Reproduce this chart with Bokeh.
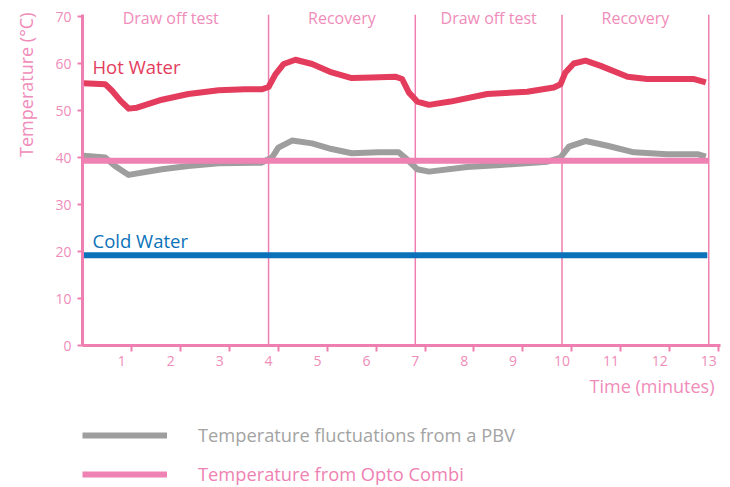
from bokeh.plotting import figure
from bokeh.layouts import column
from bokeh.models import FixedTicker, Legend, LegendItem, Range1d, Title
from bokeh.core.properties import value
from bokeh.embed import file_html
from bokeh.resources import INLINE

# ---- data ----
hot_x = [0.22, 0.66, 0.80, 0.97, 1.14, 1.31, 1.82, 2.36, 2.98, 3.52, 3.86, 4.00, 4.14, 4.31,
         4.55, 4.89, 5.29, 5.70, 6.11, 6.59, 6.73, 6.87, 7.04, 7.28, 7.72, 8.47, 9.29, 9.83,
         9.97, 10.07, 10.24, 10.48, 10.79, 11.34, 11.74, 12.70, 12.94]
hot_y = [55.8, 55.6, 54.2, 52.1, 50.4, 50.6, 52.3, 53.5, 54.3, 54.5, 54.5, 55.0, 57.7, 59.9,
         60.8, 59.9, 58.1, 56.9, 57.0, 57.2, 56.7, 53.8, 51.9, 51.2, 51.9, 53.5, 54.0, 54.9,
         55.6, 58.1, 60.0, 60.6, 59.5, 57.2, 56.7, 56.7, 56.0]

pbv_x = [0.22, 0.66, 0.86, 1.14, 1.82, 2.36, 2.98, 3.86, 4.07, 4.20, 4.48, 4.89, 5.29, 5.70,
         6.25, 6.66, 6.83, 7.04, 7.28, 8.06, 8.74, 9.70, 9.97, 10.14, 10.48, 10.93, 11.47,
         12.15, 12.77, 12.94]
pbv_y = [40.4, 40.0, 38.2, 36.3, 37.5, 38.2, 38.8, 38.9, 40.0, 42.1, 43.6, 43.0, 41.8, 40.9,
         41.1, 41.1, 39.6, 37.5, 37.0, 38.0, 38.4, 39.1, 40.0, 42.3, 43.5, 42.5, 41.1,
         40.7, 40.7, 40.2]

opto_x = [0.2, 13.0]
opto_y = [39.3, 39.3]

cold_x = [0.2, 12.97]
cold_y = [19.2, 19.2]

phase_start = [0, 4, 7, 10]
phase_end = [4, 7, 10, 13]
phase_labels = ["Draw off test", "Recovery", "Draw off test", "Recovery"]

x_ticks = list(range(1, 14))
y_ticks = [0, 10, 20, 30, 40, 50, 60, 70]

# ---- style ----
FONT = "Open Sans"
PINK_AXIS = "#EE7FB0"
PINK_TEXT = "#F08CB9"
RED = "#E43C5C"
GRAY = "#9E9E9E"
OPTO = "#EE82B2"
BLUE = "#0B72B9"
Y_TOP = 70.4      # top of the drawn axis / dividers
Y_VIEW = 72.98    # a little head-room so the phase titles are not clipped

p = figure(width=730, height=415, x_range=Range1d(0.196, 13.24), y_range=Range1d(0, Y_VIEW),
           output_backend="svg", toolbar_location=None,
           min_border_left=82, min_border_right=10, min_border_top=2, min_border_bottom=70)
p.grid.visible = False
p.outline_line_color = None

# phase dividers
p.segment(x0=phase_end, y0=[0] * len(phase_end), x1=phase_end, y1=[Y_TOP] * len(phase_end),
          line_color=PINK_AXIS, line_width=1.5)

# phase labels
mids = [(a + b) / 2 for a, b in zip(phase_start, phase_end)]
p.text(x=mids, y=[69.6] * len(mids), text=phase_labels, text_align="center",
       text_baseline="middle", text_color=PINK_TEXT, text_font=value(FONT),
       text_font_size="16px")

# series
p.line(cold_x, cold_y, line_color=BLUE, line_width=6)
r_pbv = p.line(pbv_x, pbv_y, line_color=GRAY, line_width=6, line_join="round")
p.line(hot_x, hot_y, line_color=RED, line_width=6, line_join="round")
r_opto = p.line(opto_x, opto_y, line_color=OPTO, line_width=6)

p.text(x=[0.4], y=[59.4], text=["Hot Water"], text_baseline="middle", text_color=RED,
       text_font=value(FONT), text_font_size="18.5px")
p.text(x=[0.4], y=[22.3], text=["Cold Water"], text_baseline="middle", text_color=BLUE,
       text_font=value(FONT), text_font_size="18.5px")

# axes
for ax in (p.xaxis[0], p.yaxis[0]):
    ax.axis_line_color = PINK_AXIS
    ax.axis_line_width = 3
    ax.major_label_text_color = PINK_TEXT
    ax.major_label_text_font = FONT
    ax.major_label_text_font_size = "14px"

p.yaxis.ticker = FixedTicker(ticks=y_ticks)
p.yaxis.bounds = (0, Y_TOP)
p.yaxis.major_tick_line_color = PINK_AXIS
p.yaxis.major_tick_line_width = 2
p.yaxis.major_tick_out = 5
p.yaxis.major_tick_in = 0
p.yaxis.minor_tick_line_color = None
p.yaxis.major_label_standoff = 6

TICK_SHIFT = 0.2
p.xaxis.ticker = FixedTicker(ticks=x_ticks, minor_ticks=[t + TICK_SHIFT for t in x_ticks])
p.xaxis.major_tick_line_color = None
p.xaxis.major_tick_out = 0
p.xaxis.major_tick_in = 0
p.xaxis.minor_tick_line_color = PINK_AXIS
p.xaxis.minor_tick_line_width = 2
p.xaxis.minor_tick_out = 6
p.xaxis.minor_tick_in = 0
p.xaxis.major_label_standoff = 4

title_style = dict(text_color=PINK_TEXT, text_font=FONT, text_font_style="normal",
                   text_font_size="18px", align="right")
p.add_layout(Title(text="Time (minutes)", offset=6, standoff=10, vertical_align="top",
                   **title_style), "below")
p.add_layout(Title(text="Temperature (°C)", offset=10, standoff=26, vertical_align="top",
                   **title_style), "left")

# ---- legend strip (series drawn out of view; only their legend entries show) ----
q = figure(width=730, height=72, x_range=Range1d(100, 101), y_range=Range1d(100, 101),
           output_backend="svg", toolbar_location=None, x_axis_type=None, y_axis_type=None,
           min_border_left=0, min_border_right=0, min_border_top=0, min_border_bottom=0)
q.grid.visible = False
q.outline_line_color = None
q_pbv = q.line(pbv_x, pbv_y, line_color=GRAY, line_width=6)
q_opto = q.line(opto_x, opto_y, line_color=OPTO, line_width=6)

common = dict(orientation="vertical", glyph_width=85, glyph_height=16,
              label_standoff=31, padding=0, margin=0, border_line_color=None,
              background_fill_alpha=0, label_text_font=FONT, label_text_font_size="18.3px",
              label_height=16)
leg1 = Legend(items=[LegendItem(label="Temperature fluctuations from a PBV", renderers=[q_pbv])],
              label_text_color="#A3A3A3", location=(0, 40), **common)
leg2 = Legend(items=[LegendItem(label="Temperature from Opto Combi", renderers=[q_opto])],
              label_text_color=OPTO, location=(0, 1), **common)
q.add_layout(leg1)
q.add_layout(leg2)

open("out.html", "w").write(file_html(column(p, q, spacing=0), INLINE))
